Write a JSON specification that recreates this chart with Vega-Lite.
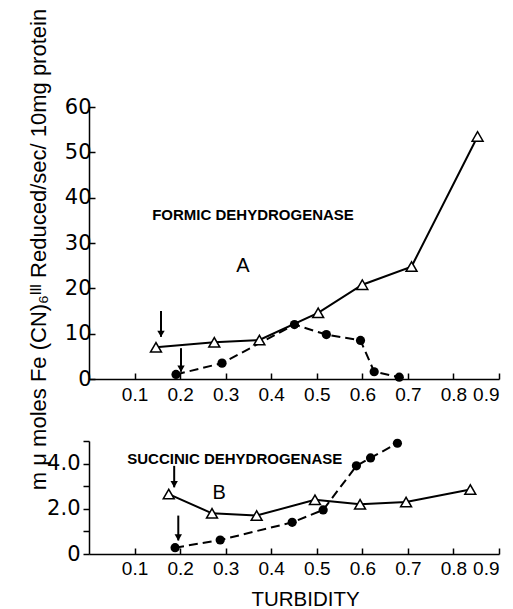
{
  "$schema": "https://vega.github.io/schema/vega-lite/v6.json",
  "background": "white",
  "padding": {"left": 26, "top": 5, "right": 10, "bottom": 2},
  "config": {
    "view": {"stroke": null},
    "font": "Liberation Sans",
    "axis": {"domainColor": "black", "tickColor": "black", "labelColor": "black", "titleColor": "black", "grid": false, "domainWidth": 1.5, "tickWidth": 1.5, "labelFont": "Liberation Sans", "titleFont": "Liberation Sans", "titleFontWeight": "normal"}
  },
  "datasets": {
    "formic": [
      {"kind": "tri", "t": 0.147, "v": 7.0},
      {"kind": "tri", "t": 0.275, "v": 8.1},
      {"kind": "tri", "t": 0.374, "v": 8.6},
      {"kind": "tri", "t": 0.503, "v": 14.6},
      {"kind": "tri", "t": 0.6, "v": 20.8},
      {"kind": "tri", "t": 0.708, "v": 24.8},
      {"kind": "tri", "t": 0.853, "v": 53.5},
      {"kind": "dot", "t": 0.191, "v": 1.0},
      {"kind": "dot", "t": 0.292, "v": 3.5},
      {"kind": "dot", "t": 0.451, "v": 12.0},
      {"kind": "dot", "t": 0.521, "v": 9.8},
      {"kind": "dot", "t": 0.596, "v": 8.5},
      {"kind": "dot", "t": 0.626, "v": 1.6},
      {"kind": "dot", "t": 0.681, "v": 0.4}
    ],
    "succinic": [
      {"kind": "tri", "t": 0.175, "v": 2.65},
      {"kind": "tri", "t": 0.27, "v": 1.8},
      {"kind": "tri", "t": 0.368, "v": 1.7},
      {"kind": "tri", "t": 0.496, "v": 2.4},
      {"kind": "tri", "t": 0.595, "v": 2.2},
      {"kind": "tri", "t": 0.696, "v": 2.3},
      {"kind": "tri", "t": 0.837, "v": 2.85},
      {"kind": "dot", "t": 0.189, "v": 0.28},
      {"kind": "dot", "t": 0.288, "v": 0.62},
      {"kind": "dot", "t": 0.446, "v": 1.4},
      {"kind": "dot", "t": 0.514, "v": 1.95},
      {"kind": "dot", "t": 0.587, "v": 3.9},
      {"kind": "dot", "t": 0.618, "v": 4.25},
      {"kind": "dot", "t": 0.677, "v": 4.9}
    ],
    "formicArrows": [
      {"t": 0.158, "from": 15.0, "to": 9.3},
      {"t": 0.202, "from": 6.8, "to": 1.6}
    ],
    "succinicArrows": [
      {"t": 0.187, "from": 3.9, "to": 2.95},
      {"t": 0.196, "from": 1.7, "to": 0.6}
    ],
    "formicLabels": [{"t": 0.36, "v": 36.2, "label": "FORMIC  DEHYDROGENASE"}],
    "formicLetter": [{"t": 0.338, "v": 25, "label": "A"}],
    "succinicLabels": [{"t": 0.32, "v": 4.2, "label": "SUCCINIC  DEHYDROGENASE"}],
    "succinicLetter": [{"t": 0.286, "v": 2.7, "label": "B"}]
  },
  "spacing": 62,
  "bounds": "flush",
  "vconcat": [
    {
      "width": 410,
      "height": 272,
      "encoding": {
        "x": {"field": "t", "type": "quantitative", "scale": {"domain": [0, 0.9], "nice": false, "zero": false},
          "axis": {"title": null, "values": [0.1, 0.2, 0.3, 0.4, 0.5, 0.6, 0.7, 0.8, 0.9], "labelExpr": "format(datum.value, '.1f')", "tickSize": -6, "labelPadding": 12, "labelFontSize": 19}},
        "y": {"field": "v", "type": "quantitative", "scale": {"domain": [0, 60], "nice": false},
          "axis": {"values": [0, 10, 20, 30, 40, 50, 60], "tickSize": -6, "labelPadding": 4, "labelFont": "DejaVu Sans", "labelFontSize": 21,
            "title": "m μ moles  Fe (CN)₆ᴵᴵᴵ Reduced/sec/ 10mg protein", "titleFontSize": 22, "titleX": -51, "titleY": 142, "titleAngle": -90, "titleAlign": "center", "titleBaseline": "middle"}}
      },
      "layer": [
        {"data": {"name": "formic"}, "transform": [{"filter": "datum.kind === 'tri'"}], "mark": {"type": "line", "color": "black", "strokeWidth": 2}},
        {"data": {"name": "formic"}, "transform": [{"filter": "datum.kind === 'dot'"}], "mark": {"type": "line", "color": "black", "strokeWidth": 2, "strokeDash": [9, 5]}},
        {"data": {"name": "formic"}, "transform": [{"filter": "datum.kind === 'tri'"}], "mark": {"type": "point", "shape": "triangle-up", "filled": true, "fill": "white", "stroke": "black", "strokeWidth": 1.5, "size": 120, "opacity": 1}},
        {"data": {"name": "formic"}, "transform": [{"filter": "datum.kind === 'dot'"}], "mark": {"type": "point", "shape": "circle", "filled": true, "color": "black", "size": 85, "opacity": 1}},
        {"data": {"name": "formicArrows"}, "mark": {"type": "rule", "color": "black", "strokeWidth": 2}, "encoding": {"y": {"field": "from", "type": "quantitative"}, "y2": {"field": "to"}}},
        {"data": {"name": "formicArrows"}, "mark": {"type": "point", "shape": "triangle-down", "filled": true, "color": "black", "size": 55, "opacity": 1, "yOffset": -3}, "encoding": {"y": {"field": "to", "type": "quantitative"}}},
        {"data": {"name": "formicLabels"}, "mark": {"type": "text", "font": "Liberation Sans", "fontSize": 15, "fontWeight": "bold", "align": "center", "baseline": "middle", "color": "black"}, "encoding": {"text": {"field": "label"}}},
        {"data": {"name": "formicLetter"}, "mark": {"type": "text", "font": "Liberation Sans", "fontSize": 20, "align": "center", "baseline": "middle", "color": "black"}, "encoding": {"text": {"field": "label"}}}
      ]
    },
    {
      "width": 410,
      "height": 113,
      "encoding": {
        "x": {"field": "t", "type": "quantitative", "scale": {"domain": [0, 0.9], "nice": false, "zero": false},
          "axis": {"title": "TURBIDITY", "titleFontSize": 20.5, "titlePadding": 11, "titleX": 216, "values": [0.1, 0.2, 0.3, 0.4, 0.5, 0.6, 0.7, 0.8, 0.9], "labelExpr": "format(datum.value, '.1f')", "tickSize": -6, "labelPadding": 11, "labelFontSize": 19}},
        "y": {"field": "v", "type": "quantitative", "scale": {"domain": [0, 5], "nice": false},
          "axis": {"values": [0, 1, 2, 3, 4, 5], "labelExpr": "datum.value == 0 ? '0' : (datum.value % 2 == 0 ? format(datum.value, '.1f') : '')", "tickSize": 6, "labelPadding": 3, "labelFont": "DejaVu Sans", "labelFontSize": 21, "title": null}}
      },
      "layer": [
        {"data": {"name": "succinic"}, "transform": [{"filter": "datum.kind === 'tri'"}], "mark": {"type": "line", "color": "black", "strokeWidth": 2}},
        {"data": {"name": "succinic"}, "transform": [{"filter": "datum.kind === 'dot'"}], "mark": {"type": "line", "color": "black", "strokeWidth": 2, "strokeDash": [9, 5]}},
        {"data": {"name": "succinic"}, "transform": [{"filter": "datum.kind === 'tri'"}], "mark": {"type": "point", "shape": "triangle-up", "filled": true, "fill": "white", "stroke": "black", "strokeWidth": 1.5, "size": 120, "opacity": 1}},
        {"data": {"name": "succinic"}, "transform": [{"filter": "datum.kind === 'dot'"}], "mark": {"type": "point", "shape": "circle", "filled": true, "color": "black", "size": 85, "opacity": 1}},
        {"data": {"name": "succinicArrows"}, "mark": {"type": "rule", "color": "black", "strokeWidth": 2}, "encoding": {"y": {"field": "from", "type": "quantitative"}, "y2": {"field": "to"}}},
        {"data": {"name": "succinicArrows"}, "mark": {"type": "point", "shape": "triangle-down", "filled": true, "color": "black", "size": 55, "opacity": 1, "yOffset": -3}, "encoding": {"y": {"field": "to", "type": "quantitative"}}},
        {"data": {"name": "succinicLabels"}, "mark": {"type": "text", "font": "Liberation Sans", "fontSize": 15, "fontWeight": "bold", "align": "center", "baseline": "middle", "color": "black"}, "encoding": {"text": {"field": "label"}}},
        {"data": {"name": "succinicLetter"}, "mark": {"type": "text", "font": "Liberation Sans", "fontSize": 20, "align": "center", "baseline": "middle", "color": "black"}, "encoding": {"text": {"field": "label"}}}
      ]
    }
  ]
}
